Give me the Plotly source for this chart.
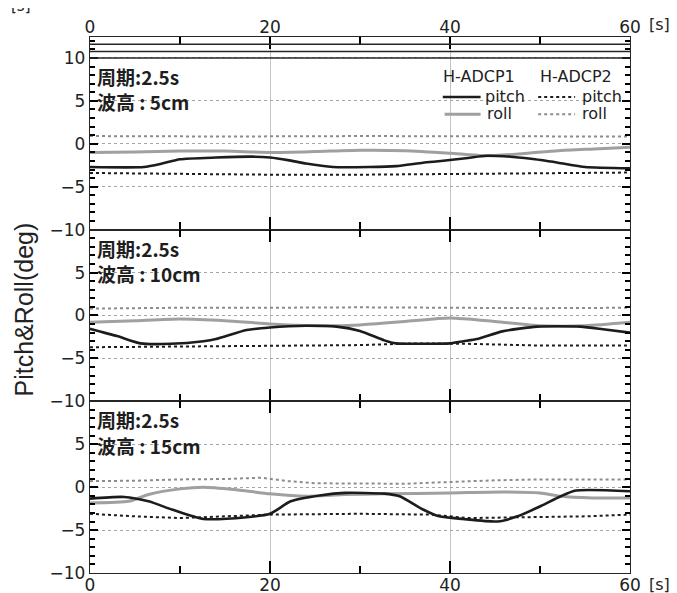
import plotly.graph_objects as go
from plotly.subplots import make_subplots

# ---------------- data ----------------
x_tick_vals = [0, 20, 40, 60]
y_tick_top = [-10, -5, 0, 5, 10]
y_tick_low = [-10, -5, 0, 5]
top_band_levels = [11.6, 10.75, 10.0]

period_labels = ["周期:2.5s", "周期:2.5s", "周期:2.5s"]
wave_labels = ["波高 : 5cm", "波高 : 10cm", "波高 : 15cm"]

# panel 1 : 5 cm
p1_adcp1_pitch_t = [0, 6, 8, 10, 14, 18, 20, 22, 24, 27, 31, 34, 37, 39, 42, 44, 46, 49, 52, 55, 60]
p1_adcp1_pitch_v = [-2.7, -2.7, -2.3, -1.8, -1.6, -1.5, -1.6, -1.9, -2.3, -2.7, -2.7, -2.6, -2.2, -2.0, -1.65, -1.4, -1.45, -1.75, -2.2, -2.7, -2.85]
p1_adcp1_roll_t = [0, 5, 10, 15, 20, 25, 30, 35, 40, 44, 48, 52, 56, 60]
p1_adcp1_roll_v = [-1.0, -0.95, -0.85, -0.85, -1.0, -0.9, -0.75, -0.8, -1.1, -1.4, -1.15, -0.8, -0.6, -0.4]
p1_adcp2_pitch_t = [0, 10, 20, 30, 40, 50, 60]
p1_adcp2_pitch_v = [-3.4, -3.5, -3.6, -3.6, -3.5, -3.4, -3.35]
p1_adcp2_roll_t = [0, 15, 30, 45, 60]
p1_adcp2_roll_v = [0.9, 0.85, 0.9, 0.85, 0.85]

# panel 2 : 10 cm
p2_adcp1_pitch_t = [0, 3, 5.6, 9, 12.6, 14, 17.4, 20, 24, 27.4, 30, 32.7, 34, 37, 40, 41.5, 43, 45.8, 49.7, 54.5, 57, 60]
p2_adcp1_pitch_v = [-1.55, -2.4, -3.25, -3.3, -3.0, -2.75, -1.7, -1.4, -1.2, -1.3, -1.8, -2.9, -3.25, -3.3, -3.25, -3.0, -2.75, -1.85, -1.3, -1.3, -1.6, -2.0]
p2_adcp1_roll_t = [0, 5, 10, 15, 20, 25, 30, 35, 40, 45, 50, 55, 60]
p2_adcp1_roll_v = [-0.8, -0.6, -0.4, -0.6, -1.0, -1.2, -1.1, -0.7, -0.3, -0.7, -1.2, -1.2, -0.8]
p2_adcp2_pitch_t = [0, 10, 20, 30, 36, 42, 50, 60]
p2_adcp2_pitch_v = [-3.7, -3.6, -3.5, -3.45, -3.25, -3.3, -3.5, -3.5]
p2_adcp2_roll_t = [0, 10, 20, 30, 40, 50, 60]
p2_adcp2_roll_v = [0.8, 0.9, 0.9, 0.95, 0.9, 0.85, 0.9]

# panel 3 : 15 cm
p3_adcp1_pitch_t = [0, 3.8, 6.5, 9.1, 12.6, 17.4, 20, 22.3, 25.7, 28.3, 32.7, 34.4, 37, 38.8, 41.4, 45.3, 47.5, 50.1, 52.3, 54, 60]
p3_adcp1_pitch_v = [-1.33, -1.14, -1.65, -2.6, -3.7, -3.5, -3.1, -1.65, -0.94, -0.67, -0.75, -1.06, -2.6, -3.4, -3.7, -4.0, -3.4, -2.2, -1.06, -0.4, -0.47]
p3_adcp1_roll_t = [0, 4.3, 6.5, 10, 12.6, 16, 20, 24, 28.3, 32.7, 40, 45.8, 50, 52.3, 55.8, 60]
p3_adcp1_roll_v = [-1.84, -1.65, -0.86, -0.2, 0.0, -0.27, -0.78, -1.06, -0.86, -0.78, -0.67, -0.55, -0.67, -1.06, -1.25, -1.25]
p3_adcp2_pitch_t = [0, 5, 10, 20, 30, 38, 42, 50, 55, 60]
p3_adcp2_pitch_v = [-3.1, -3.4, -3.6, -3.2, -3.1, -3.2, -3.6, -3.5, -3.4, -3.2]
p3_adcp2_roll_t = [0, 5, 10, 15, 19, 22, 25, 30, 35, 40, 45, 50, 55, 60]
p3_adcp2_roll_v = [0.7, 0.75, 0.9, 0.95, 1.1, 0.7, 0.45, 0.4, 0.4, 0.6, 0.8, 0.9, 0.9, 0.9]

panels = [
    (p1_adcp1_pitch_t, p1_adcp1_pitch_v, p1_adcp1_roll_t, p1_adcp1_roll_v,
     p1_adcp2_pitch_t, p1_adcp2_pitch_v, p1_adcp2_roll_t, p1_adcp2_roll_v),
    (p2_adcp1_pitch_t, p2_adcp1_pitch_v, p2_adcp1_roll_t, p2_adcp1_roll_v,
     p2_adcp2_pitch_t, p2_adcp2_pitch_v, p2_adcp2_roll_t, p2_adcp2_roll_v),
    (p3_adcp1_pitch_t, p3_adcp1_pitch_v, p3_adcp1_roll_t, p3_adcp1_roll_v,
     p3_adcp2_pitch_t, p3_adcp2_pitch_v, p3_adcp2_roll_t, p3_adcp2_roll_v),
]

# ---------------- styles ----------------
BLACK = "#1c1c1c"
GRAY = "#a0a0a0"
GRAY_DOT = "#8c8c8c"
FRAME = "#262626"
TICK = "#000000"
LATIN = "DejaVu Sans, sans-serif"
TITLE_FONT = "Liberation Sans, Arial, sans-serif"
CJK = "Noto Sans CJK JP, sans-serif"

fig = make_subplots(rows=3, cols=1, vertical_spacing=0,
                    row_heights=[193, 172, 172])

for i, (a1p_t, a1p_v, a1r_t, a1r_v, a2p_t, a2p_v, a2r_t, a2r_v) in enumerate(panels):
    r = i + 1
    fig.add_trace(go.Scatter(x=a2r_t, y=a2r_v, mode="lines",
                             line=dict(color=GRAY_DOT, width=2, dash="dot"),
                             showlegend=False), row=r, col=1)
    fig.add_trace(go.Scatter(x=a2p_t, y=a2p_v, mode="lines",
                             line=dict(color=BLACK, width=2, dash="dot"),
                             showlegend=False), row=r, col=1)
    fig.add_trace(go.Scatter(x=a1r_t, y=a1r_v, mode="lines", line_shape="spline",
                             line=dict(color=GRAY, width=3, smoothing=0.6),
                             showlegend=False), row=r, col=1)
    fig.add_trace(go.Scatter(x=a1p_t, y=a1p_v, mode="lines", line_shape="spline",
                             line=dict(color=BLACK, width=2.6, smoothing=0.6),
                             showlegend=False), row=r, col=1)

for lvl in top_band_levels:
    fig.add_hline(y=lvl, line=dict(color=FRAME, width=1.5), row=1, col=1)

xcommon = dict(range=[0, 60], tickmode="array", tickvals=x_tick_vals,
               ticks="inside", ticklen=12, tickwidth=2.2, tickcolor=TICK,
               minor=dict(tickmode="linear", dtick=10, tick0=0, ticks="inside", ticklen=7,
                          tickcolor=TICK, tickwidth=2.2, showgrid=False),
               showline=True, mirror="allticks", linecolor=FRAME, linewidth=1.3,
               showgrid=True, gridcolor="#c4c4c4", gridwidth=1, zeroline=False,
               ticklabelstandoff=-4,
               tickfont=dict(family=LATIN, size=17, color="#222"))
ycommon = dict(ticks="inside", ticklen=8, tickwidth=2.2, tickcolor=TICK,
               minor=dict(tickmode="linear", dtick=1, tick0=0, ticks="inside",
                          ticklen=5, tickcolor=TICK, tickwidth=2, showgrid=False),
               showline=True, mirror="allticks", linecolor=FRAME, linewidth=1.3,
               showgrid=True, gridcolor="#a5a5a5", griddash="dot", gridwidth=1,
               zeroline=False, tickfont=dict(family=LATIN, size=17, color="#222"))

fig.update_xaxes(**xcommon)
fig.update_yaxes(**ycommon)
fig.update_xaxes(side="top", showticklabels=True, row=1, col=1)
fig.update_xaxes(showticklabels=False, row=2, col=1)
fig.update_xaxes(showticklabels=True, row=3, col=1)
fig.update_yaxes(range=[-10, 12.44], tickmode="array", tickvals=y_tick_top, row=1, col=1)
fig.update_yaxes(range=[-10, 10], tickmode="array", tickvals=y_tick_low, row=2, col=1)
fig.update_yaxes(range=[-10, 10], tickmode="array", tickvals=y_tick_low, row=3, col=1)

annotations = []
yrefs = ["y", "y2", "y3"]
xrefs = ["x", "x2", "x3"]
for i in range(3):
    annotations.append(dict(x=0.6, y=7.85, xref=xrefs[i], yref=yrefs[i],
                            text="<b>" + period_labels[i] + "</b>", showarrow=False,
                            xanchor="left", yanchor="middle",
                            font=dict(family=CJK, size=19, color="#1e1e1e")))
    annotations.append(dict(x=0.6, y=4.9, xref=xrefs[i], yref=yrefs[i],
                            text="<b>" + wave_labels[i] + "</b>", showarrow=False,
                            xanchor="left", yanchor="middle",
                            font=dict(family=CJK, size=19, color="#1e1e1e")))

leg_font = dict(family=LATIN, size=16, color="#222")
annotations += [
    dict(x=43.2, y=7.8, xref="x", yref="y", text="H-ADCP1", showarrow=False,
         xanchor="center", yanchor="middle", font=leg_font),
    dict(x=54.0, y=7.8, xref="x", yref="y", text="H-ADCP2", showarrow=False,
         xanchor="center", yanchor="middle", font=leg_font),
    dict(x=43.7, y=5.5, xref="x", yref="y", text="pitch", showarrow=False,
         xanchor="left", yanchor="middle", font=leg_font),
    dict(x=43.9, y=3.5, xref="x", yref="y", text="roll", showarrow=False,
         xanchor="left", yanchor="middle", font=leg_font),
    dict(x=54.4, y=5.5, xref="x", yref="y", text="pitch", showarrow=False,
         xanchor="left", yanchor="middle", font=leg_font),
    dict(x=54.4, y=3.5, xref="x", yref="y", text="roll", showarrow=False,
         xanchor="left", yanchor="middle", font=leg_font),
]
shapes = [
    dict(type="line", xref="x", yref="y", x0=39.2, x1=43.4, y0=5.45, y1=5.45,
         line=dict(color=BLACK, width=2.6)),
    dict(type="line", xref="x", yref="y", x0=39.4, x1=43.4, y0=3.45, y1=3.45,
         line=dict(color=GRAY, width=3)),
    dict(type="line", xref="x", yref="y", x0=49.8, x1=53.9, y0=5.45, y1=5.45,
         line=dict(color=BLACK, width=2, dash="dot")),
    dict(type="line", xref="x", yref="y", x0=49.8, x1=53.9, y0=3.45, y1=3.45,
         line=dict(color=GRAY_DOT, width=2, dash="dot")),
]

annotations += [
    dict(x=1.055, y=1.024, xref="paper", yref="paper", text="[s]", showarrow=False,
         xanchor="center", yanchor="middle", font=dict(family=LATIN, size=16, color="#222")),
    dict(x=1.055, y=-0.021, xref="paper", yref="paper", text="[s]", showarrow=False,
         xanchor="center", yanchor="middle", font=dict(family=LATIN, size=16, color="#222")),
    dict(x=-0.128, y=1.057, xref="paper", yref="paper", text="[s]", showarrow=False,
         xanchor="center", yanchor="middle", font=dict(family=LATIN, size=15, color="#222")),
    dict(x=-0.122, y=0.492, xref="paper", yref="paper", text="Pitch&Roll(deg)",
         showarrow=False, textangle=-90, xanchor="center", yanchor="middle",
         font=dict(family=TITLE_FONT, size=25, color="#222")),
]

fig.update_layout(width=677, height=593, template="none",
                  margin=dict(l=82, r=55, t=29, b=28),
                  plot_bgcolor="white", paper_bgcolor="white",
                  annotations=list(fig.layout.annotations) + annotations,
                  shapes=list(fig.layout.shapes) + shapes,
                  showlegend=False)

fig.write_html("out.html")
